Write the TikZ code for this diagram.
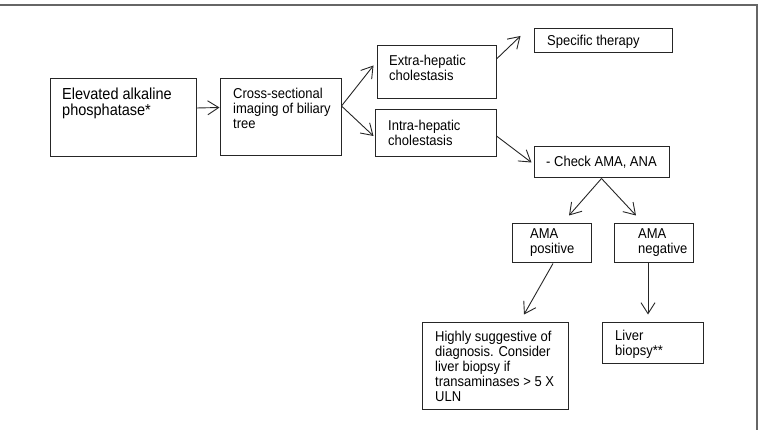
\documentclass[tikz,border=0pt]{standalone}
\usepackage{fontspec}
\setmainfont{Liberation Sans}
\usetikzlibrary{arrows.meta}

\begin{document}
\begin{tikzpicture}[x=1pt, y=-1pt, >={Straight Barb[length=11pt, width=14pt]},
  bx/.style={draw=black!85, line width=1pt, inner sep=0pt},
  tx/.style={anchor=west, inner sep=0pt, align=left, text=black, yscale=1.1, transform shape, font=\fontsize{13}{13.7}\selectfont},
  ar/.style={->, line width=0.9pt, draw=black!85}]
\useasboundingbox (0,0) rectangle (760,430);
\draw[line width=1.2pt, black!60] (0,5) -- (757,5) -- (757,432);
\node[bx, minimum width=146pt, minimum height=78pt] (alp)  at (123,118)   {};
\node[bx, minimum width=121pt, minimum height=77pt] (img)  at (280.5,117.5) {};
\node[bx, minimum width=119pt, minimum height=53pt] (ext)  at (436.5,72.5) {};
\node[bx, minimum width=121pt, minimum height=47pt] (intr) at (435.5,133.5) {};
\node[bx, minimum width=138pt, minimum height=24pt] (spec) at (603,41)    {};
\node[bx, minimum width=135pt, minimum height=31pt] (chk)  at (601.5,162.5) {};
\node[bx, minimum width=79pt,  minimum height=39pt] (pos)  at (551.5,243.5) {};
\node[bx, minimum width=79pt,  minimum height=39pt] (neg)  at (653.5,243.5) {};
\node[bx, minimum width=146pt, minimum height=87pt] (hsd)  at (495,365.5) {};
\node[bx, minimum width=101pt, minimum height=41pt] (bio)  at (652.5,342.5) {};
\node[tx, font=\fontsize{14.5}{14.6}\selectfont] (alpT) at (62,103) {Elevated alkaline\\phosphatase*};
\node[tx] (imgT)  at (233,108)   {Cross-sectional\\imaging of biliary\\tree};
\node[tx] (extT)  at (389,68)    {Extra-hepatic\\cholestasis};
\node[tx] (intrT) at (388,132.5) {Intra-hepatic\\cholestasis};
\node[tx] (specT) at (547,41.5)  {Specific therapy};
\node[tx] (chkT)  at (546,162)   {- Check AMA, ANA};
\node[tx] (posT)  at (530,243)   {AMA\\positive};
\node[tx] (negT)  at (638,243)   {AMA\\negative};
\node[tx] (hsdT)  at (435,366.5) {Highly suggestive of\\diagnosis. Consider\\liver biopsy if\\transaminases > 5 X\\ULN};
\node[tx] (bioT)  at (615,344.5) {Liver\\biopsy**};
\draw[ar] ([yshift=10pt]alp.east) -- ([yshift=10pt]img.west);
\draw[ar] ([yshift=11.5pt]img.east) -- ([shift={(-3pt,7pt)}]ext.west);
\draw[ar] ([yshift=11.5pt]img.east) -- ([shift={(-1pt,-2.5pt)}]intr.west);
\draw[ar] ([yshift=13.5pt]ext.east) -- ([shift={(-13pt,5pt)}]spec.west);
\draw[ar] ([yshift=-2.5pt]intr.east) -- ([xshift=-2pt]chk.west);
\draw[ar] (chk.south) -- ([shift={(17.5pt,8pt)}]pos.north);
\draw[ar] (chk.south) -- ([shift={(-17.5pt,8pt)}]neg.north);
\draw[ar] ([xshift=1.5pt]pos.south) -- ([shift={(29pt,7pt)}]hsd.north);
\draw[ar] ([xshift=-5.5pt]neg.south) -- ([shift={(-4.5pt,7pt)}]bio.north);
\end{tikzpicture}
\end{document}
